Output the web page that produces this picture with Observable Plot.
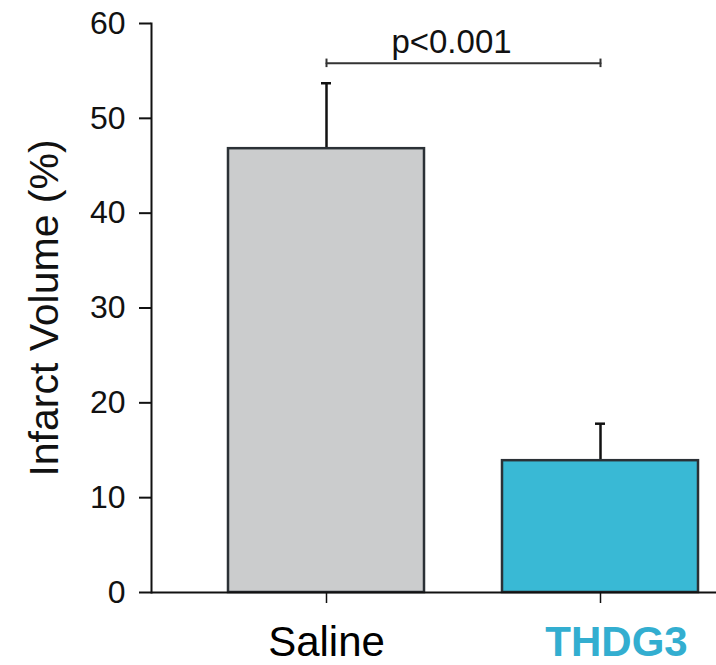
<!DOCTYPE html>
<html>
<head>
<meta charset="utf-8">
<script src="https://cdn.jsdelivr.net/npm/d3@7"></script>
<script src="https://cdn.jsdelivr.net/npm/@observablehq/plot@0.6"></script>
<style>
  html, body { margin: 0; padding: 0; background: #fff; }
  #chart svg { display: block; }
</style>
</head>
<body>
<div id="chart"></div>
<script>
const groups = ["Saline", "THDG3"];
const means = [46.8, 13.9];
const errors = [6.9, 3.9];
const barColors = ["#cbcccd", "#39b9d5"];
const labelColors = ["#000000", "#33aed0"];
const yTicks = [0, 10, 20, 30, 40, 50, 60];
const pText = "p<0.001";
const bracketY = 55.8;
const yTitle = "Infarct Volume (%)";

const data = groups.map((g, i) => ({group: g, mean: means[i], top: means[i] + errors[i], fill: barColors[i], label: labelColors[i]}));
const bracket = [{group: groups[0], y: bracketY}, {group: groups[1], y: bracketY}];
const font = "'Liberation Sans', Arial, Helvetica, sans-serif";

const chart = Plot.plot({
  width: 716,
  height: 665,
  marginLeft: 151,
  marginRight: 0,
  marginTop: 23,
  marginBottom: 73,
  style: {fontFamily: font, background: "#fff", overflow: "visible"},
  x: {domain: groups, paddingInner: 0.285, paddingOuter: 0.1735, align: 0.81, axis: null},
  y: {domain: [0, 60], axis: null},
  marks: [
    Plot.ruleX(data, {x: "group", y1: "mean", y2: "top", stroke: "#111", strokeWidth: 2.5}),
    Plot.tickY(data, {x: "group", y: "top", stroke: "#111", strokeWidth: 2.5, insetLeft: 93, insetRight: 93}),
    Plot.barY(data, {x: "group", y: "mean", fill: "fill", stroke: "#2b3136", strokeWidth: 2.5}),
    Plot.ruleY([0], {stroke: "#111", strokeWidth: 2}),
    Plot.frame({anchor: "left", stroke: "#111", strokeWidth: 2}),
    Plot.axisY({ticks: yTicks, tickSize: 12, tickPadding: 14, fontSize: 32, stroke: "#111", strokeWidth: 2, label: null, fill: "#111"}),
    Plot.axisX({tickSize: 11, tickFormat: () => "", stroke: "#111", strokeWidth: 1.5, label: null}),
    Plot.text([groups[0]], {x: d => d, frameAnchor: "bottom", dy: 63, lineAnchor: "bottom", fontSize: 42, fill: labelColors[0], text: d => d}),
    Plot.text([groups[1]], {x: d => d, frameAnchor: "bottom", dx: 16, dy: 63, lineAnchor: "bottom", fontSize: 42, fontWeight: "bold", fill: labelColors[1], text: d => d}),
    Plot.line(bracket, {x: "group", y: "y", stroke: "#333", strokeWidth: 2}),
    Plot.ruleX(bracket, {x: "group", y1: bracketY - 0.45, y2: bracketY + 0.45, stroke: "#333", strokeWidth: 2}),
    Plot.text([pText], {x: () => groups[0], y: 56.94, dx: 125, lineAnchor: "bottom", fontSize: 33, fill: "#111", text: d => d}),
    Plot.text([yTitle], {frameAnchor: "left", dx: -94, rotate: -90, textAnchor: "middle", lineAnchor: "bottom", fontSize: 41, fill: "#111", text: d => d})
  ]
});
document.getElementById("chart").appendChild(chart);
</script>
</body>
</html>
